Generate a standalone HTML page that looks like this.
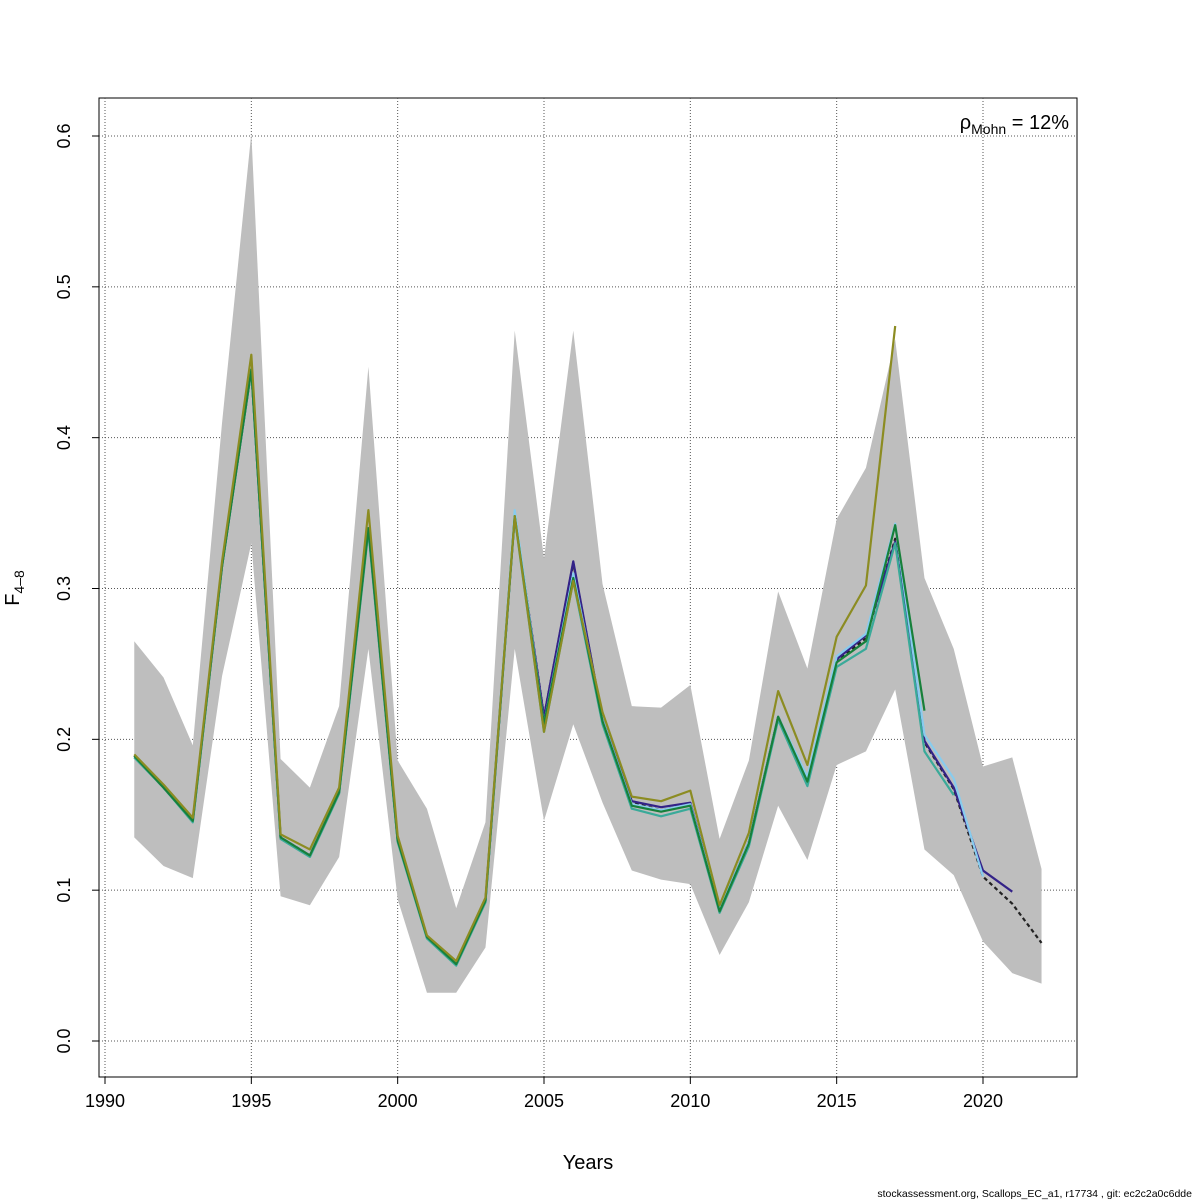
<!DOCTYPE html>
<html><head><meta charset="utf-8"><style>
html,body{margin:0;padding:0;background:#fff;}
svg{display:block;font-family:"Liberation Sans",sans-serif;}
</style></head><body>
<svg id="chart" width="1200" height="1200" viewBox="0 0 1200 1200">
<rect x="99" y="98" width="978" height="979" fill="none" stroke="#000" stroke-width="1"/>
<g id="grid"></g>
<g id="band"></g>
<g id="lines"></g>
<g id="axes"></g>
<text x="588" y="1169" font-size="20" text-anchor="middle">Years</text>
<text transform="translate(19,588) rotate(-90)" font-size="20" text-anchor="middle">F<tspan font-size="14" dy="5">4–8</tspan></text>
<text x="1069" y="129" font-size="20" text-anchor="end">ρ<tspan font-size="14" dy="5">Mohn</tspan><tspan dy="-5"> = 12%</tspan></text>
<text x="1192" y="1197" font-size="10.5" text-anchor="end">stockassessment.org, Scallops_EC_a1, r17734 , git: ec2c2a0c6dde</text>
</svg>
<script>
const years=[1991,1992,1993,1994,1995,1996,1997,1998,1999,2000,2001,2002,2003,2004,2005,2006,2007,2008,2009,2010,2011,2012,2013,2014,2015,2016,2017,2018,2019,2020,2021,2022];
const baseF=[0.189,0.168,0.146,0.315,0.445,0.135,0.123,0.165,0.34,0.133,0.069,0.052,0.093,0.348,0.215,0.317,0.213,0.158,0.153,0.157,0.087,0.132,0.215,0.173,0.252,0.267,0.333,0.198,0.167,0.109,0.091,0.065];
const upperF=[0.265,0.241,0.196,0.41,0.602,0.187,0.168,0.222,0.447,0.186,0.154,0.088,0.145,0.471,0.32,0.471,0.303,0.222,0.221,0.236,0.134,0.186,0.298,0.247,0.346,0.38,0.465,0.307,0.26,0.182,0.188,0.114];
const lowerF=[0.135,0.116,0.108,0.242,0.33,0.096,0.09,0.122,0.26,0.094,0.032,0.032,0.062,0.26,0.146,0.21,0.158,0.113,0.107,0.104,0.057,0.092,0.156,0.12,0.183,0.192,0.233,0.127,0.11,0.066,0.045,0.038];
const peel1=[0.189,0.168,0.146,0.315,0.445,0.135,0.123,0.165,0.34,0.133,0.069,0.052,0.093,0.348,0.215,0.318,0.213,0.159,0.155,0.158,0.087,0.132,0.215,0.173,0.253,0.269,0.331,0.199,0.168,0.113,0.099];
const peel2=[0.189,0.168,0.146,0.315,0.445,0.135,0.123,0.165,0.34,0.133,0.069,0.052,0.093,0.352,0.21,0.31,0.213,0.157,0.153,0.157,0.087,0.132,0.215,0.175,0.255,0.27,0.343,0.203,0.174,0.109];
const peel3=[0.188,0.168,0.145,0.315,0.445,0.134,0.122,0.164,0.338,0.132,0.068,0.05,0.092,0.347,0.205,0.305,0.21,0.154,0.149,0.154,0.085,0.129,0.213,0.169,0.248,0.26,0.33,0.192,0.163];
const peel4=[0.189,0.168,0.146,0.315,0.445,0.135,0.123,0.165,0.34,0.133,0.069,0.051,0.093,0.348,0.21,0.307,0.212,0.156,0.152,0.156,0.086,0.131,0.215,0.172,0.251,0.265,0.342,0.219];
const peel5=[0.19,0.17,0.148,0.318,0.455,0.137,0.127,0.168,0.352,0.136,0.07,0.053,0.095,0.348,0.205,0.305,0.218,0.162,0.159,0.166,0.09,0.138,0.232,0.183,0.268,0.302,0.474];
const xTicks=[1990,1995,2000,2005,2010,2015,2020];
const yTicks=[0,0.1,0.2,0.3,0.4,0.5,0.6];
const yTickLabels=["0.0","0.1","0.2","0.3","0.4","0.5","0.6"];
const NS="http://www.w3.org/2000/svg";
const X=y=>105+(y-1990)*(983-105)/30;
const Y=v=>1041-v*(1041-136)/0.6;
function mk(tag,attrs,parent){const e=document.createElementNS(NS,tag);for(const k in attrs)e.setAttribute(k,attrs[k]);parent.appendChild(e);return e;}
const grid=document.getElementById('grid'),axes=document.getElementById('axes'),band=document.getElementById('band'),lines=document.getElementById('lines');
xTicks.forEach(t=>{
  const g=mk('line',{x1:X(t),x2:X(t),y1:98,y2:1077,stroke:'#555','stroke-dasharray':'1,2','stroke-width':1},grid);
  
  
  const tk=mk('line',{x1:X(t),x2:X(t),y1:1077,y2:1084,stroke:'#000'},axes);
  
  
  const tx=mk('text',{x:X(t),y:1107,'font-size':18,'text-anchor':'middle'},axes);tx.textContent=t;
  
  
});
mk('line',{x1:X(1990),x2:X(2020),y1:1077,y2:1077,stroke:'#000'},axes);
yTicks.forEach((t,i)=>{
  const g=mk('line',{x1:99,x2:1077,y1:Y(t),y2:Y(t),stroke:'#555','stroke-dasharray':'1,2','stroke-width':1},grid);
  
  
  const tk=mk('line',{x1:92,x2:99,y1:Y(t),y2:Y(t),stroke:'#000'},axes);
  
  
  const tx=mk('text',{transform:`translate(70,${Y(t)}) rotate(-90)`,'font-size':18,'text-anchor':'middle'},axes);tx.textContent=yTickLabels[i];
  
  
});
let pts=years.map((y,i)=>X(y)+','+Y(upperF[i]));
for(let i=years.length-1;i>=0;i--)pts.push(X(years[i])+','+Y(lowerF[i]));
const poly=mk('polygon',{points:pts.join(' '),fill:'#bebebe',stroke:'none'},band);


function line(vals,color,name,dash){
  const p=mk('polyline',{points:vals.map((v,i)=>X(years[i])+','+Y(v)).join(' '),fill:'none',stroke:color,'stroke-width':2.2,'stroke-linejoin':'round'},lines);
  if(dash)p.setAttribute('stroke-dasharray',dash);
  
  
}
line(baseF,'#222','base-run-line','4,3');
line(peel1,'#332288','retro-peel-1');
line(peel2,'#88ccee','retro-peel-2');
line(peel3,'#3aaa99','retro-peel-3');
line(peel4,'#17803a','retro-peel-4');
line(peel5,'#8c8c22','retro-peel-5');
</script>
</body></html>
